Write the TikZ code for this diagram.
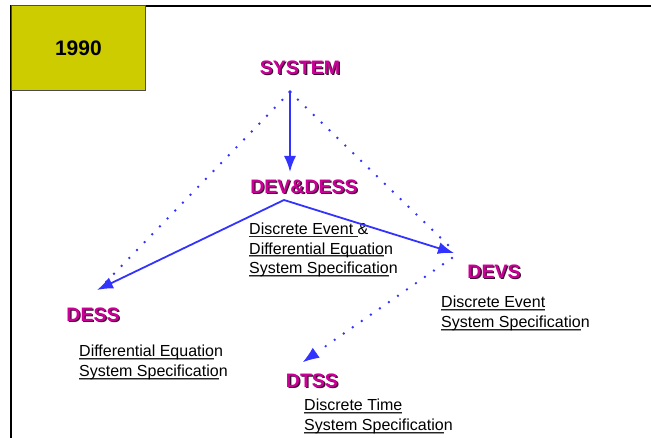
\documentclass[tikz,border=0pt]{standalone}
\usepackage{fontspec}
\setmainfont{Liberation Sans}
\usetikzlibrary{arrows.meta,calc}

\definecolor{flowblue}{HTML}{3333FF}
\definecolor{titlemag}{HTML}{CC0099}
\definecolor{titleshade}{HTML}{3A1030}
\definecolor{yearbox}{HTML}{CCCC00}

% underline with a soft grey shadow, sitting just under the baseline
\newcommand\ulpart[1]{\setbox0\hbox{#1}%
  \rlap{\textcolor{black!40}{\rule[-3.0pt]{\wd0}{0.8pt}}}%
  \rlap{\textcolor{black!85}{\rule[-2.2pt]{\wd0}{0.9pt}}}#1}
% bold heading with a dark drop shadow
\newcommand\shadowed[1]{\rlap{\kern1.3pt\raisebox{-1.3pt}{\textcolor{titleshade}{#1}}}\textcolor{titlemag}{#1}}

\tikzset{
  heading/.style={inner sep=0pt, font=\fontsize{19.5}{22}\selectfont\bfseries},
  spec/.style={anchor=north west, align=left, inner sep=0pt,
    font=\fontsize{16}{19.8}\selectfont},
  solidflow/.style={draw=flowblue, line width=1.8pt,
    -{Latex[length=16pt,width=12pt]}},
  dottedflow/.style={draw=flowblue, line width=2.7pt, line cap=round,
    dash pattern=on 0pt off 11pt},
}

\begin{document}
\begin{tikzpicture}[x=1pt,y=-1pt]
\useasboundingbox (0,0) rectangle (651,438);

% frame and year tab
\draw[line width=1.6pt] (10,6) -- (651,6);
\draw[line width=1.6pt] (11,5) -- (11,438);
\node[draw=black!70, line width=0.8pt, fill=yearbox, minimum width=134pt,
  minimum height=85pt, anchor=north west, inner sep=0pt,
  font=\fontsize{21}{24}\selectfont\bfseries] (year) at (11,5.5) {1990};

% headings
\node[heading] (system) at (300,68) {\shadowed{SYSTEM}};
\node[heading] (devdess) at (304,187) {\shadowed{DEV\&DESS}};
\node[heading] (devs) at (494,272) {\shadowed{DEVS}};
\node[heading] (dess) at (93,315) {\shadowed{DESS}};
\node[heading] (dtss) at (312,381) {\shadowed{DTSS}};

% specification texts
\node[spec] (devdesstxt) at (249,222.5)
  {\ulpart{Discrete Event }\&\\\ulpart{Differential Equatio}n\\\ulpart{System Specificatio}n};
\node[spec] (devstxt) at (441,296)
  {\ulpart{Discrete Event}\\\ulpart{System Specificatio}n};
\node[spec] (desstxt) at (79,345)
  {\ulpart{Differential Equatio}n\\\ulpart{System Specificatio}n};
\node[spec] (dtsstxt) at (304,399)
  {\ulpart{Discrete Time}\\\ulpart{System Specificatio}n};

% connector end points
\coordinate (src) at (290,92);
\coordinate (apex) at (284,200);
\coordinate (tipL) at (97,290);
\coordinate (tipR) at (454,253);
\coordinate (tipT) at (303,362);
\coordinate (dotL) at (106,282);
\coordinate (dotR) at (449,246);
\coordinate (dotS) at (452,258);
\coordinate (headT) at ($(tipT)!18pt!(dotS)$);

% connectors
\draw[dottedflow] (src) -- (dotL);
\draw[dottedflow] (src) -- (dotR);
\fill[flowblue] (src) circle (1.8pt);
\draw[solidflow] (src) -- (290,172);
\draw[solidflow] (apex) -- (tipL);
\draw[solidflow] (apex) -- (tipR);
\draw[dottedflow] (dotS) -- (headT);
\draw[solidflow, line width=0.6pt] ($(tipT)!16pt!(dotS)$) -- (tipT);
\end{tikzpicture}
\end{document}
